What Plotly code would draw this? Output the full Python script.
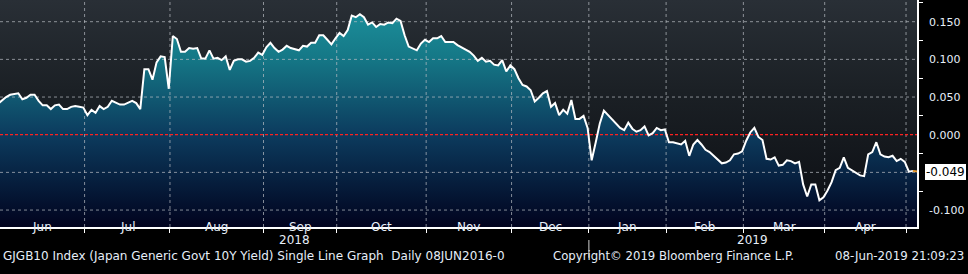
import plotly.graph_objects as go

# ---------------- data ----------------
month_labels = ["Jun", "Jul", "Aug", "Sep", "Oct", "Nov", "Dec", "Jan", "Feb", "Mar", "Apr"]
# trading days per month: May-18 (partial), Jun ... Apr, May-19 (partial)
month_days = [1, 21, 21, 23, 18, 22, 21, 19, 19, 19, 20, 20, 3]
year_labels = ["2018", "2019"]
y_ticks = [-0.10, -0.05, 0.0, 0.05, 0.10, 0.15]
y_tick_shown = [True, False, True, True, True, True]

yields = [
    0.041, 0.046, 0.050, 0.053, 0.054, 0.055, 0.047, 0.049, 0.053, 0.053,
    0.045, 0.039, 0.039, 0.034, 0.039, 0.040, 0.034, 0.034, 0.037, 0.038,
    0.037, 0.036, 0.026, 0.033, 0.029, 0.038, 0.034, 0.037, 0.045, 0.043,
    0.040, 0.040, 0.042, 0.045, 0.042, 0.034, 0.087, 0.087, 0.073, 0.096,
    0.104, 0.103, 0.061, 0.131, 0.127, 0.110, 0.110, 0.115, 0.114, 0.115,
    0.101, 0.101, 0.112, 0.101, 0.102, 0.099, 0.104, 0.086, 0.098, 0.100,
    0.100, 0.097, 0.098, 0.102, 0.109, 0.106, 0.116, 0.122, 0.115, 0.110,
    0.113, 0.118, 0.115, 0.113, 0.112, 0.118, 0.117, 0.122, 0.122, 0.132,
    0.132, 0.126, 0.120, 0.128, 0.135, 0.131, 0.139, 0.158, 0.156, 0.160,
    0.156, 0.146, 0.149, 0.143, 0.147, 0.146, 0.149, 0.148, 0.154, 0.151,
    0.132, 0.117, 0.114, 0.112, 0.121, 0.126, 0.123, 0.128, 0.128, 0.131,
    0.123, 0.123, 0.123, 0.119, 0.116, 0.112, 0.110, 0.105, 0.098, 0.102,
    0.097, 0.098, 0.093, 0.092, 0.099, 0.084, 0.092, 0.087, 0.075, 0.066,
    0.064, 0.059, 0.044, 0.049, 0.055, 0.058, 0.037, 0.042, 0.026, 0.033,
    0.028, 0.046, 0.021, 0.021, 0.025, 0.009, -0.034, -0.010, 0.015, 0.032,
    0.026, 0.020, 0.014, 0.009, 0.006, 0.016, 0.008, 0.004, 0.006, 0.011,
    -0.001, 0.002, 0.009, 0.006, 0.007, -0.010, -0.010, -0.011, -0.013, -0.008,
    -0.028, -0.013, -0.007, -0.013, -0.020, -0.023, -0.028, -0.033, -0.038, -0.037,
    -0.034, -0.026, -0.025, -0.022, -0.008, 0.003, 0.009, -0.003, -0.007, -0.032,
    -0.033, -0.030, -0.041, -0.040, -0.034, -0.035, -0.038, -0.036, -0.066, -0.082,
    -0.066, -0.066, -0.087, -0.083, -0.074, -0.063, -0.047, -0.044, -0.030, -0.044,
    -0.047, -0.051, -0.054, -0.055, -0.026, -0.023, -0.010, -0.026, -0.029, -0.030,
    -0.028, -0.035, -0.032, -0.036, -0.049, -0.048, -0.049,
]
last_label = "-0.049"

footer_left = "GJGB10 Index (Japan Generic Govt 10Y Yield) Single Line Graph\u00a0 Daily 08JUN2016-0"
footer_mid = "Copyright\u00a9 2019 Bloomberg Finance L.P."
footer_right = "08-Jun-2019 21:09:23"

# ---------------- derived ----------------
N = len(yields)
xs = list(range(N))
starts = []
acc = 0
for d in month_days:
    starts.append(acc)
    acc += d
bounds = [s - 0.7 for s in starts[2:]]          # Jul ... May boundaries
XR = [0.5, 226.0]
YR = [-0.1225, 0.1788]
PLOT_W = 917
px_per_x = PLOT_W / (XR[1] - XR[0])
edges = [XR[0]] + bounds
mids = [(edges[k] + edges[k + 1]) / 2 for k in range(len(month_labels))]
jan_b = bounds[6]
year_mids = [(XR[0] + jan_b) / 2, (jan_b + XR[1]) / 2]

FONT = "DejaVu Sans"
TXT = "#e6eef8"
fig = go.Figure()

# plot-area background gradient
fig.add_trace(go.Scatter(
    x=[XR[0], XR[1], XR[1], XR[0], XR[0]], y=[YR[0], YR[0], YR[1], YR[1], YR[0]],
    fill="toself", mode="lines", line=dict(width=0),
    fillgradient=dict(type="vertical", start=YR[0], stop=YR[1],
                      colorscale=[[0, "#0b0d12"], [0.6, "#1b2025"], [1, "#292f36"]]),
    hoverinfo="skip", showlegend=False))

# baseline for area fill
fig.add_trace(go.Scatter(x=xs, y=[YR[0]] * N, mode="lines", line=dict(width=0),
                         hoverinfo="skip", showlegend=False))
# area fill
fig.add_trace(go.Scatter(
    x=xs, y=yields, mode="lines", line=dict(width=0), fill="tonexty",
    fillgradient=dict(type="vertical", start=YR[0], stop=YR[1],
                      colorscale=[[0, "#01031e"], [0.407, "#0c3b5e"],
                                  [0.74, "#157786"], [1, "#1d949f"]]),
    hoverinfo="skip", showlegend=False))

# grid lines (over fill, under the line)
gx, gy = [], []
for v in y_ticks:
    if v != 0:
        gx += [XR[0], XR[1], None]
        gy += [v, v, None]
for b in bounds:
    gx += [b, b, None]
    gy += [YR[0], YR[1], None]
fig.add_trace(go.Scatter(x=gx, y=gy, mode="lines",
                         line=dict(color="rgba(185,190,195,0.7)", width=1, dash="3px,3px"),
                         hoverinfo="skip", showlegend=False))
fig.add_trace(go.Scatter(x=[XR[0], XR[1]], y=[0, 0], mode="lines",
                         line=dict(color="#ff2020", width=1.3, dash="3px,2px"),
                         hoverinfo="skip", showlegend=False))

# main line
fig.add_trace(go.Scatter(x=xs[:-1], y=yields[:-1], mode="lines",
                         line=dict(color="white", width=2), showlegend=False))
fig.add_trace(go.Scatter(x=xs[-2:], y=yields[-2:], mode="lines",
                         line=dict(color="#f0a030", width=2), showlegend=False))

# major tick arrows on the right axis
tri_x = XR[1] + 4.5 / px_per_x
fig.add_trace(go.Scatter(
    x=[tri_x] * sum(y_tick_shown), y=[v for v, s in zip(y_ticks, y_tick_shown) if s],
    mode="markers", marker=dict(symbol="triangle-right", size=7, color="white", line=dict(width=0)),
    cliponaxis=False, hoverinfo="skip", showlegend=False))
# pointer of the last-value tag
fig.add_trace(go.Scatter(
    x=[XR[1] + 5.5 / px_per_x], y=[yields[-1]], mode="markers",
    marker=dict(symbol="triangle-left", size=12, color="white", line=dict(width=0)),
    cliponaxis=False, hoverinfo="skip", showlegend=False))

ann = []
for lab, m in zip(month_labels, mids):
    ann.append(dict(x=m, y=0, xref="x", yref="paper", yshift=-9, text=lab,
                    showarrow=False, font=dict(color=TXT, size=12, family=FONT)))
for lab, m in zip(year_labels, year_mids):
    ann.append(dict(x=m, y=0, xref="x", yref="paper", yshift=-22, text=lab,
                    showarrow=False, font=dict(color=TXT, size=12, family=FONT)))
ann.append(dict(x=0, y=0, xref="paper", yref="paper", xanchor="left", xshift=1, yshift=-38,
                text=footer_left, showarrow=False, font=dict(color=TXT, size=12, family=FONT)))
ann.append(dict(x=551 / PLOT_W, y=0, xref="paper", yref="paper", xanchor="left", yshift=-38,
                text=footer_mid, showarrow=False, font=dict(color=TXT, size=11.7, family=FONT)))
ann.append(dict(x=1, y=0, xref="paper", yref="paper", xanchor="right", xshift=49, yshift=-38,
                text=footer_right, showarrow=False, font=dict(color=TXT, size=11.8, family=FONT)))
ann.append(dict(x=1, y=yields[-1], xref="paper", yref="y", xanchor="left", xshift=8,
                text=last_label, showarrow=False, bgcolor="white", borderpad=1, borderwidth=0,
                font=dict(color="black", size=12, family=FONT)))

shapes = [dict(type="line", xref="x", yref="paper", x0=jan_b, x1=jan_b, y0=-0.057, y1=-0.135,
               line=dict(color="#8c8c8c", width=1.5))]

fig.update_layout(
    width=968, height=274, margin=dict(l=0, r=51, t=0, b=47),
    paper_bgcolor="black", plot_bgcolor="black",
    annotations=ann, shapes=shapes, showlegend=False,
    xaxis=dict(range=XR, showgrid=False, zeroline=False, showline=True, linecolor="white",
               linewidth=1.5, ticks="outside", tickvals=bounds, ticklen=4, tickcolor="white",
               tickwidth=1, showticklabels=False, fixedrange=True),
    yaxis=dict(range=YR, side="right", showgrid=False, zeroline=False, showline=True,
               linecolor="white", linewidth=1.5, ticks="outside", ticklen=8,
               tickcolor="rgba(0,0,0,0)",
               tickvals=y_ticks,
               ticktext=[f"{v:.3f}" if s else "" for v, s in zip(y_ticks, y_tick_shown)],
               tickfont=dict(color=TXT, size=11, family=FONT),
               minor=dict(ticks="outside", dtick=0.05, tick0=0.025, ticklen=4, tickcolor="white"),
               fixedrange=True),
)
fig.write_html("out.html")
